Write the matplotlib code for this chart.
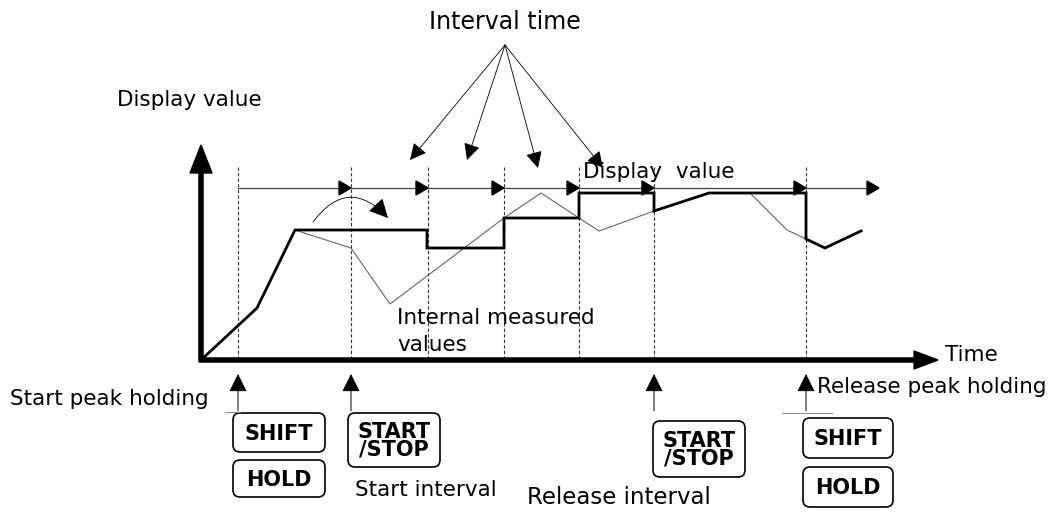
import matplotlib
matplotlib.use("Agg")
import matplotlib.pyplot as plt
from matplotlib.patches import FancyBboxPatch, Polygon, FancyArrowPatch

# ---- data (diagram coordinates in pixels of the reference) ----
interval_x = [238, 351, 428, 504, 579, 654, 806]          # dashed marker times
row_end_x = 879

display_x = [201, 257, 295, 427, 427, 504, 504, 579, 579, 654, 654, 709, 806, 806, 825, 861]
display_y = [360, 308, 230, 230, 248, 248, 218, 218, 193, 193, 211, 193, 193, 239, 248, 231]

internal_x = [295, 351, 390, 504, 541, 579, 599, 654, 709, 750, 787, 806]
internal_y = [230, 248, 304, 218, 193, 218, 231, 211, 193, 193, 230, 239]

fan_tips_x = [410, 467, 538, 603]
fan_tips_y = [160, 160, 168, 168]

FONT = ["DejaVu Sans"]

fig = plt.figure(figsize=(10.64, 5.17), dpi=100)
ax = fig.add_axes([0, 0, 1, 1])
ax.set_xlim(0, 1064)
ax.set_ylim(517, 0)
ax.axis("off")

# dashed verticals
for x in interval_x:
    ax.plot([x, x], [167, 360], color="#333333", lw=0.8, ls=(0, (3, 2)), zorder=1)

# axes
ax.plot([201, 201], [362, 170], color="black", lw=4, solid_capstyle="butt", zorder=3)
ax.add_patch(Polygon([[190, 173], [212, 173], [201, 145]], closed=True, color="black", zorder=3))
ax.plot([199, 916], [360, 360], color="black", lw=4, solid_capstyle="butt", zorder=3)
ax.add_patch(Polygon([[914, 351], [914, 369], [938, 360]], closed=True, color="black", zorder=3))

# interval row arrows
starts = interval_x
ends = interval_x[1:] + [row_end_x]
for s, e in zip(starts, ends):
    ax.plot([s, e - 10], [188, 188], color="#444444", lw=0.9, zorder=2)
    ax.add_patch(Polygon([[e - 12, 181], [e - 12, 195], [e, 188]], closed=True,
                         color="black", zorder=3))

# fan from "Interval time"
for tx, ty in zip(fan_tips_x, fan_tips_y):
    ax.add_patch(FancyArrowPatch((505, 45), (tx, ty), arrowstyle="-|>,head_length=6,head_width=3",
                                 mutation_scale=1.7, color="black", lw=0.6,
                                 shrinkA=0, shrinkB=0, zorder=3))

# curved arrow
ax.add_patch(FancyArrowPatch((313, 222), (388, 218), connectionstyle="arc3,rad=-0.6",
                             arrowstyle="-|>,head_length=6,head_width=3", mutation_scale=2.0,
                             color="black", lw=0.6, shrinkA=0, shrinkB=0, zorder=3))

# internal and display lines
ax.plot(internal_x, internal_y, color="#666666", lw=0.8, zorder=4)
ax.plot(display_x, display_y, color="black", lw=2.0, zorder=5, solid_joinstyle="miter")

# texts
txt = dict(family=FONT, fontsize=15.5, color="black")
ax.text(505, 22, "Interval time", ha="center", va="center", family=FONT, fontsize=17)
ax.text(117, 100, "Display value", ha="left", va="center", **txt)
ax.text(583, 172, "Display  value", ha="left", va="center", **txt)
ax.text(397, 318, "Internal measured", ha="left", va="center", **txt)
ax.text(397, 345, "values", ha="left", va="center", **txt)
ax.text(945, 355, "Time", ha="left", va="center", **txt)
ax.text(10, 399, "Start peak holding", ha="left", va="center", **txt)
ax.text(817, 387, "Release peak holding", ha="left", va="center", **txt)
ax.text(355, 490, "Start interval", ha="left", va="center", **txt)
ax.text(527, 497, "Release interval", ha="left", va="center", family=FONT, fontsize=16.5)

# key press arrows
for x in [238, 351, 654, 806]:
    ax.add_patch(FancyArrowPatch((x, 411), (x, 374), arrowstyle="-|>,head_length=7,head_width=3.5",
                                 mutation_scale=1.6, color="black", lw=0.7,
                                 shrinkA=0, shrinkB=0, zorder=3))
ax.plot([225, 240], [412, 412], color="#888888", lw=0.7)
ax.plot([782, 832], [413, 413], color="#888888", lw=0.7)

# keys
keys = [
    (233, 413, 92, 39, "SHIFT"),
    (233, 460, 92, 37, "HOLD"),
    (348, 413, 92, 54, "START\n/STOP"),
    (653, 421, 92, 56, "START\n/STOP"),
    (803, 418, 90, 40, "SHIFT"),
    (803, 467, 90, 40, "HOLD"),
]
for x, y, w, h, label in keys:
    ax.add_patch(FancyBboxPatch((x + 7, y + 7), w - 14, h - 14,
                                boxstyle="round,pad=7", fc="white", ec="black", lw=1.2))
    ax.text(x + w / 2, y + h / 2 + 1, label, ha="center", va="center", family=FONT,
            fontsize=15, fontweight="bold", linespacing=0.85)

fig.savefig("out.png", dpi=100)
